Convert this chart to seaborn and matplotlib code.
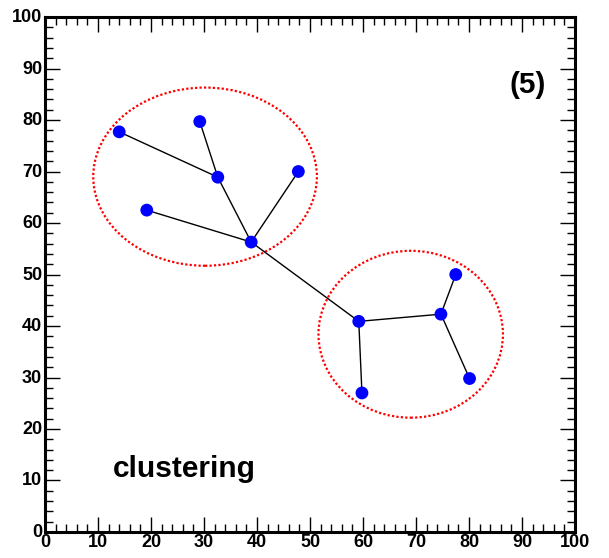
import numpy as np
import pandas as pd
import matplotlib
matplotlib.use("Agg")
import matplotlib.pyplot as plt
import matplotlib.transforms as mtransforms
from matplotlib.patches import Ellipse
from matplotlib.ticker import MultipleLocator
import seaborn as sns

# Points of the clustering tree
point_x = [14.0, 29.2, 32.6, 47.8, 19.2, 38.9, 59.2, 59.8, 74.7, 77.5, 80.1]
point_y = [77.7, 79.7, 68.9, 70.0, 62.5, 56.3, 40.9, 27.0, 42.3, 50.0, 29.8]

# Tree edges as pairs of point indices
edge_from = [0, 1, 2, 3, 4, 5, 6, 6, 8, 8]
edge_to   = [2, 2, 5, 5, 5, 6, 7, 8, 9, 10]

# Cluster outlines: centre and half-axes
cluster_cx = [30.2, 69.0]
cluster_cy = [69.0, 38.4]
cluster_rx = [21.1, 17.4]
cluster_ry = [17.3, 16.2]

tick_values = list(range(0, 101, 10))
tick_labels = [str(v) for v in tick_values]

sns.set_theme(style="white")
plt.rcParams["font.family"] = ["Liberation Sans", "DejaVu Sans"]

fig = plt.figure(figsize=(6.09, 5.58), dpi=100)
ax = fig.add_axes([0.0739, 0.0466, 0.8703, 0.9229])

# Edges
rows = []
for k, (a, b) in enumerate(zip(edge_from, edge_to)):
    rows.append({"x": point_x[a], "y": point_y[a], "edge": k})
    rows.append({"x": point_x[b], "y": point_y[b], "edge": k})
edges = pd.DataFrame(rows)
sns.lineplot(data=edges, x="x", y="y", units="edge", estimator=None, sort=False,
             color="black", linewidth=1.0, ax=ax, zorder=2)

# Cluster outlines
for cx, cy, rx, ry in zip(cluster_cx, cluster_cy, cluster_rx, cluster_ry):
    ax.add_patch(Ellipse((cx, cy), 2 * rx, 2 * ry, fill=False, edgecolor="red",
                         linestyle=(0, (1, 1)), linewidth=1.6, zorder=1))

# Points
pts = pd.DataFrame({"x": point_x, "y": point_y})
sns.scatterplot(data=pts, x="x", y="y", color="#0000ff", s=85, edgecolor="none",
                ax=ax, zorder=3)

ax.set_xlim(0, 100)
ax.set_ylim(0, 100)
ax.set_xticks(tick_values)
ax.set_xticklabels(tick_labels)
ax.set_yticks(tick_values)
ax.set_yticklabels(tick_labels)
ax.xaxis.set_minor_locator(MultipleLocator(2))
ax.yaxis.set_minor_locator(MultipleLocator(2))
ax.tick_params(which="both", direction="in", top=True, right=True,
               bottom=True, left=True, color="black", width=1.0)
ax.tick_params(which="major", length=11, labelsize=13)
ax.tick_params(axis="x", which="major", pad=1.5)
ax.tick_params(axis="y", which="major", pad=2)
ax.tick_params(which="minor", length=6)

# lift the y labels a little so the two zeros at the corner stay apart
lift = mtransforms.ScaledTranslation(0, 1.5 / 100, fig.dpi_scale_trans)
for lab in ax.get_yticklabels():
    lab.set_transform(lab.get_transform() + lift)
for lab in ax.get_xticklabels() + ax.get_yticklabels():
    lab.set_fontweight("bold")
    lab.set_color("black")
ax.set_xlabel("")
ax.set_ylabel("")
for sp in ax.spines.values():
    sp.set_visible(True)
    sp.set_color("black")
    sp.set_linewidth(2.2)

ax.text(91.1, 86.8, "(5)", fontsize=21.5, fontweight="bold", ha="center",
        va="center", color="black")
ax.text(26.2, 12.2, "clustering", fontsize=21.5, fontweight="bold", ha="center",
        va="center", color="black")

fig.savefig("out.png", dpi=100)
